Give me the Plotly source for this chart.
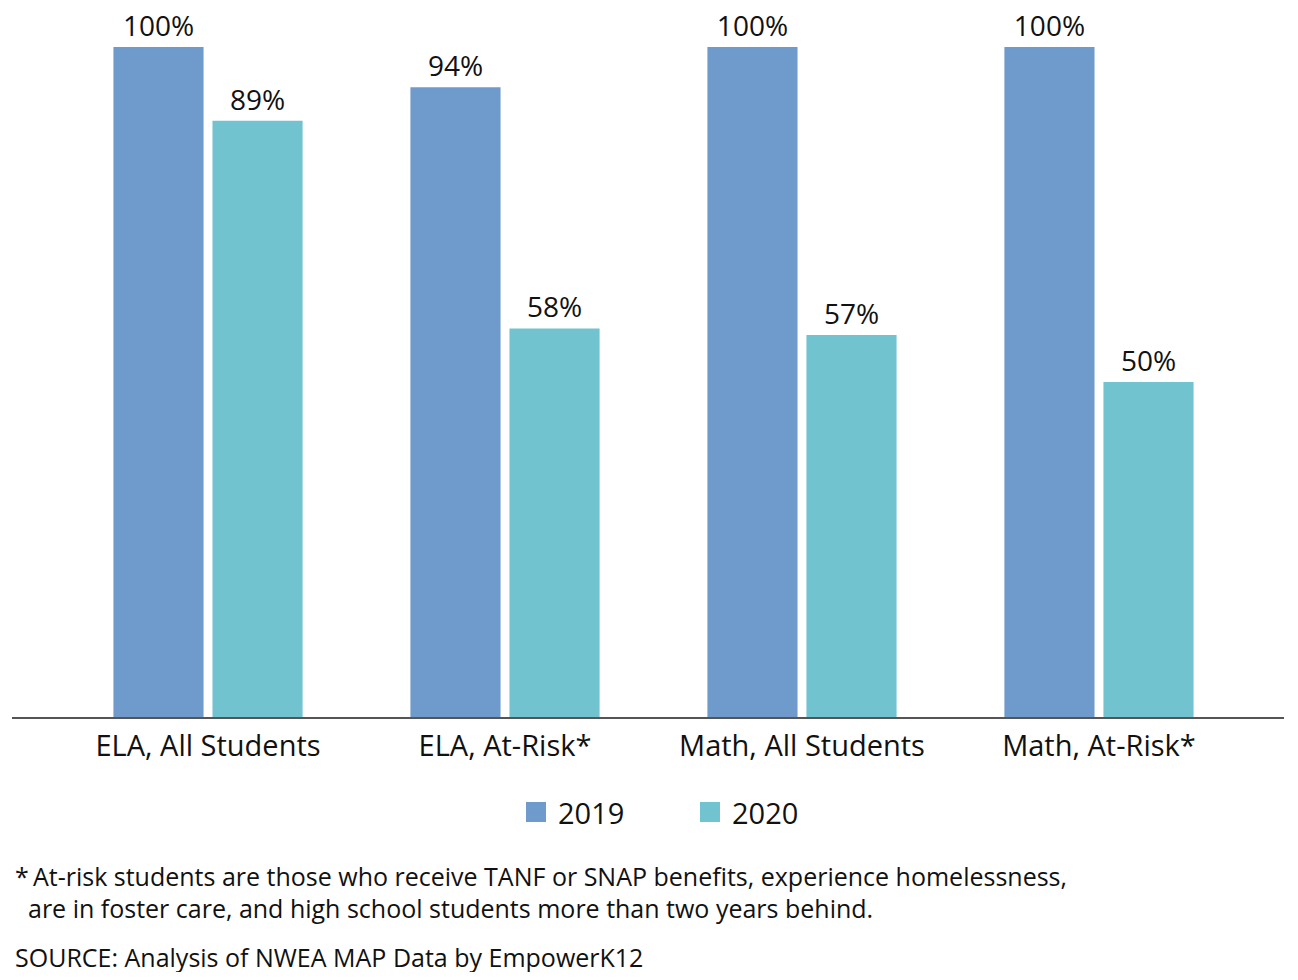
import plotly.graph_objects as go

categories = ["ELA, All Students", "ELA, At-Risk*", "Math, All Students", "Math, At-Risk*"]
series_names = ["2019", "2020"]
values_2019 = [100, 94, 100, 100]
values_2020 = [89, 58, 57, 50]
colors = ["#6F9ACC", "#72C3D0"]
footnote_1 = "*\u2009At-risk students are those who receive TANF or SNAP benefits, experience homelessness,"
footnote_2 = "are in foster care, and high school students more than two years behind."
source = "SOURCE: Analysis of NWEA MAP Data by EmpowerK12"

FONT = "Open Sans"
OFF = 8  # page body margin

fig = go.Figure()
for name, vals, col in zip(series_names, [values_2019, values_2020], colors):
    fig.add_trace(go.Bar(
        x=categories, y=vals, name=name, marker=dict(color=col, line=dict(width=0)),
        text=[f"{v}%" for v in vals], textposition="outside",
        textfont=dict(size=28, color="#111111", family=FONT),
        cliponaxis=False, showlegend=False,
    ))

W, H = 1298 - 2 * OFF, 980 - 2 * OFF
ml, mr, mt, mb = 12 - OFF, W - (1284 - OFF), 4, H - (717 - OFF)
plot_w = W - ml - mr
plot_h = H - mt - mb

def py(page_y):
    return (H - mb - (page_y - OFF)) / plot_h

def px(page_x):
    return ((page_x - OFF) - ml) / plot_w

annotations = [
    dict(text=footnote_1, x=px(13), xref="paper", xanchor="left", y=py(876), yref="paper",
         yanchor="middle", showarrow=False, font=dict(size=25, family=FONT)),
    dict(text=footnote_2, x=px(26), xref="paper", xanchor="left", y=py(908), yref="paper",
         yanchor="middle", showarrow=False, font=dict(size=25, family=FONT)),
    dict(text=source, x=px(13), xref="paper", xanchor="left", y=py(957), yref="paper",
         yanchor="middle", showarrow=False, font=dict(size=25, family=FONT)),
]
shapes = []
legend_sq_left = [526, 700]
for name, col, sx in zip(series_names, colors, legend_sq_left):
    shapes.append(dict(type="rect", xref="paper", yref="paper",
                       x0=px(sx), x1=px(sx + 20), y0=py(822), y1=py(802),
                       fillcolor=col, line=dict(width=0)))
    annotations.append(dict(text=name, x=px(sx + 30), xref="paper", xanchor="left",
                            y=py(812), yref="paper", yanchor="middle", showarrow=False,
                            font=dict(size=29, family=FONT)))

fig.update_layout(
    width=W, height=H,
    margin=dict(l=ml, r=mr, t=mt, b=mb, pad=0),
    paper_bgcolor="white", plot_bgcolor="white",
    barmode="group", bargap=0.333, bargroupgap=0.09,
    font=dict(family=FONT, color="#111111"),
    showlegend=False,
    xaxis=dict(type="category", range=[-0.66, 3.623], showline=True, linecolor="#555555",
               linewidth=1.5, ticks="", tickfont=dict(size=29, family=FONT), showgrid=False,
               zeroline=False, ticklabelstandoff=2),
    yaxis=dict(range=[0, (717 - (mt + OFF)) / 6.70], visible=False, showgrid=False, zeroline=False),
    annotations=annotations,
    shapes=shapes,
)

fig.write_html("out.html")
